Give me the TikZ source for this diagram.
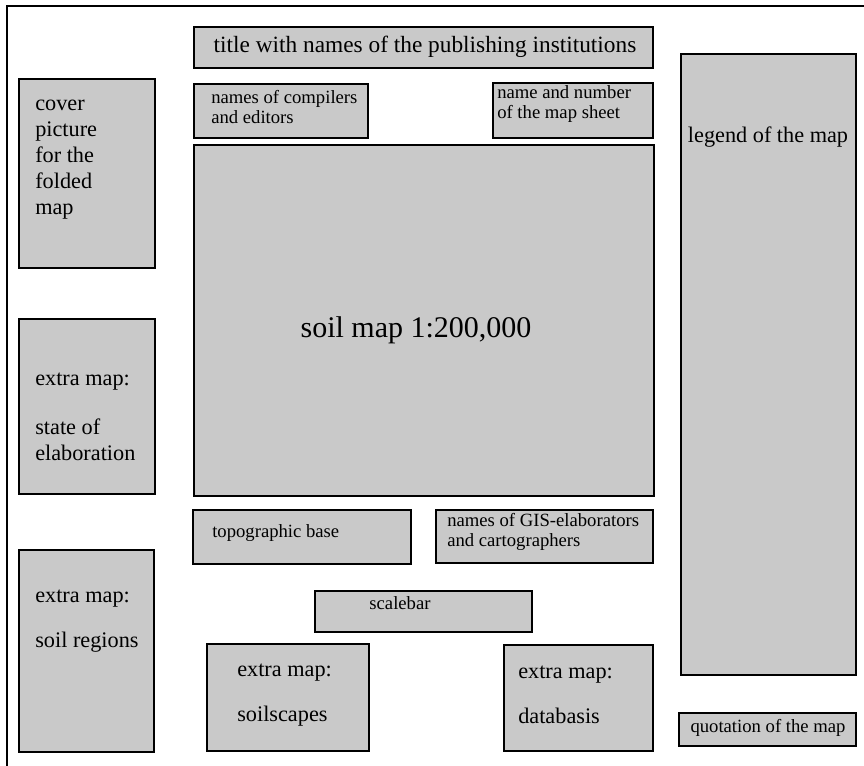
\documentclass[tikz,border=0pt]{standalone}
\usepackage{fontspec}
\setmainfont{Liberation Serif}
\usetikzlibrary{fit}
\definecolor{panelgray}{HTML}{C9C9C9}
\tikzset{
  panel/.style={draw=black, line width=1.3pt, fill=panelgray, inner sep=0pt},
  frameline/.style={draw=black, line width=1.1pt},
  bigtxt/.style={font=\fontsize{22.5}{26}\selectfont, inner sep=0pt},
  headtxt/.style={font=\fontsize{17.5}{20}\selectfont, inner sep=0pt},
  midtxt/.style={font=\fontsize{16.7}{19.5}\selectfont, inner sep=0pt, align=left},
  smalltxt/.style={font=\fontsize{14}{15.5}\selectfont, inner sep=0pt, align=left},
}
\begin{document}
\begin{tikzpicture}[x=0.75pt,y=-0.75pt]
  \useasboundingbox (0,0) rectangle (864,766);

  % sheet edge
  \coordinate (ftl) at (7,6);
  \coordinate (ftr) at (864,6);
  \coordinate (fbl) at (7,766);
  \draw[frameline] (ftr) -- (ftl) -- (fbl);

  % panels of the sheet layout
  \node[panel, fit={(194,27) (653,68)}] (title) {};
  \node[panel, fit={(194,84) (368,138)}] (compilers) {};
  \node[panel, fit={(493,83) (653,138)}] (sheet) {};
  \node[panel, fit={(194,145) (654,496)}] (soilmap) {};
  \node[panel, fit={(19,79) (155,268)}] (cover) {};
  \node[panel, fit={(19,319) (155,494)}] (state) {};
  \node[panel, fit={(19,550) (154,752)}] (regions) {};
  \node[panel, fit={(681,54) (856,675)}] (legend) {};
  \node[panel, fit={(193,510) (411,564)}] (topo) {};
  \node[panel, fit={(436,510) (653,563)}] (gis) {};
  \node[panel, fit={(315,591) (532,632)}] (scalebar) {};
  \node[panel, fit={(207,644) (369,751)}] (soilscapes) {};
  \node[panel, fit={(504,645) (653,751)}] (databasis) {};
  \node[panel, fit={(679,713) (856,746)}] (quotation) {};

  % labels
  \node[headtxt] (titlet) at (425,47) {title with names of the publishing institutions};
  \node[smalltxt, anchor=west] (compilerst) at (211,107) {names of compilers\\and editors};
  \node[smalltxt, anchor=west] (sheett) at (497,104) {name and number\\of the map sheet};
  \node[bigtxt] (soilmapt) at (416,330) {soil map 1:200,000};
  \node[midtxt, anchor=west] (covert) at (35,160) {cover\\picture\\for the\\folded\\map};
  \node[midtxt, anchor=west] (statet) at (35,417) {extra map:\\[17pt]state of\\elaboration};
  \node[midtxt, anchor=west] (regionst) at (35,621) {extra map:\\[14pt]soil regions};
  \node[midtxt] (legendt) at (768,137) {legend of the map};
  \node[smalltxt, anchor=west] (topot) at (212,533) {topographic base};
  \node[smalltxt, anchor=west] (gist) at (447,532) {names of GIS-elaborators\\and cartographers};
  \node[smalltxt] (scalebart) at (400,603) {scalebar};
  \node[midtxt, anchor=west] (soilscapest) at (237,695) {extra map:\\[14pt]soilscapes};
  \node[midtxt, anchor=west] (databasist) at (518,695) {extra map:\\[14pt]databasis};
  \node[smalltxt] (quotationt) at (768,728) {quotation of the map};
\end{tikzpicture}
\end{document}
